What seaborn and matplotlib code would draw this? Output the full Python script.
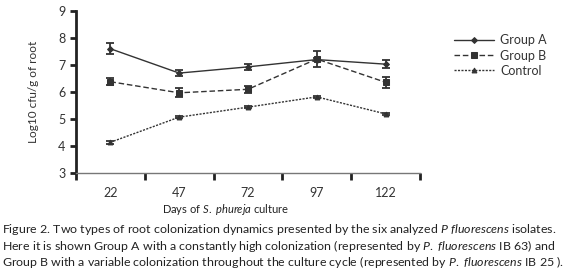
import matplotlib
matplotlib.use("Agg")
import matplotlib.pyplot as plt
import seaborn as sns
import pandas as pd
import numpy as np

days = ["22", "47", "72", "97", "122"]
group_a = [7.6, 6.7, 6.93, 7.2, 7.03]
group_a_err = [0.2, 0.1, 0.1, 0.06, 0.15]
group_b = [6.38, 5.97, 6.1, 7.22, 6.36]
group_b_err = [0.13, 0.16, 0.13, 0.28, 0.2]
control = [4.14, 5.07, 5.44, 5.82, 5.19]
control_err = [0.06, 0.04, 0.04, 0.04, 0.05]
series_names = ["Group A", "Group B", "Control"]

sns.set_style("white")
plt.rcParams['font.family'] = ['Lato', 'DejaVu Sans']
plt.rcParams['mathtext.fontset'] = 'custom'
plt.rcParams['mathtext.rm'] = 'Lato'
plt.rcParams['mathtext.it'] = 'Lato:italic'

df = pd.DataFrame({
    "day": days * 3,
    "value": group_a + group_b + control,
    "err": group_a_err + group_b_err + control_err,
    "group": sum([[n] * len(days) for n in series_names], []),
})

fig = plt.figure(figsize=(5.78, 2.73), dpi=100)
ax = fig.add_axes([0.1315, 0.366, 0.595, 0.594])

col = "#333333"
sns.lineplot(data=df, x="day", y="value", hue="group", style="group",
             palette=[col] * 3, markers=["D", "s", "^"],
             dashes=[(None, None), (4, 2), (1.5, 1)], lw=1.0, ax=ax,
             legend=False, markeredgecolor=col)
for line, name in zip(ax.get_lines(), series_names):
    line.set_markersize({"Group A": 3, "Group B": 5, "Control": 3.5}[name])
    line.set_label(name)

xpos = np.arange(len(days))
for name, vals, errs in [("Group A", group_a, group_a_err),
                         ("Group B", group_b, group_b_err),
                         ("Control", control, control_err)]:
    ax.errorbar(xpos, vals, yerr=errs, fmt="none", ecolor=col,
                elinewidth=1.3, capsize=3, capthick=1.3)

ax.set_xlim(-0.5, len(days) - 0.5)
ax.set_ylim(3, 9)
ax.set_yticks(range(3, 10))
ax.set_xticks(xpos)
ax.set_xticklabels(days)
ax.set_xticks(np.arange(-0.5, len(days)), minor=True)
ax.tick_params(axis="x", which="major", length=0, pad=10, labelsize=9, colors="#333333")
ax.tick_params(axis="x", which="minor", length=5, width=2, direction="out", color="#222222", bottom=True)
ax.tick_params(axis="y", length=4, width=2, direction="out", labelsize=9, color="#222222",
               labelcolor="#333333", left=True)
for s in ["top", "right"]:
    ax.spines[s].set_visible(False)
ax.spines["left"].set_color("#222222")
ax.spines["left"].set_linewidth(2)
ax.spines["bottom"].set_color("#777777")
ax.spines["bottom"].set_linewidth(1)
ax.set_xlabel("")
ax.set_ylabel("Log10 cfu/g of root", fontsize=8.5, color="#333333", labelpad=14)

handles = ax.get_lines()[:3]
fig.legend(handles, series_names, loc="upper left", bbox_to_anchor=(0.766, 0.915),
           frameon=False, fontsize=9, handlelength=3.2, labelspacing=0.25,
           handletextpad=0.5, labelcolor="#333333")

fig.text(0.391, 0.232, r"Days of $\mathit{S.\ phureja}$ culture", ha="center", va="center",
         fontsize=8, color="#222222")
cap = [r"Figure 2. Two types of root colonization dynamics presented by the six analyzed $\mathit{P\ fluorescens}$ isolates.",
       r"Here it is shown Group A with a constantly high colonization (represented by $\mathit{P.\ fluorescens}$ IB 63) and",
       r"Group B with a variable colonization throughout the culture cycle (represented by $\mathit{P.\ fluorescens}$ IB 25 )."]
for i, t in enumerate(cap):
    fig.text(0.003, 0.158 - i * 0.058, t, ha="left", va="center", fontsize=8.95, color="#222222")

fig.savefig("out.png", dpi=100)
